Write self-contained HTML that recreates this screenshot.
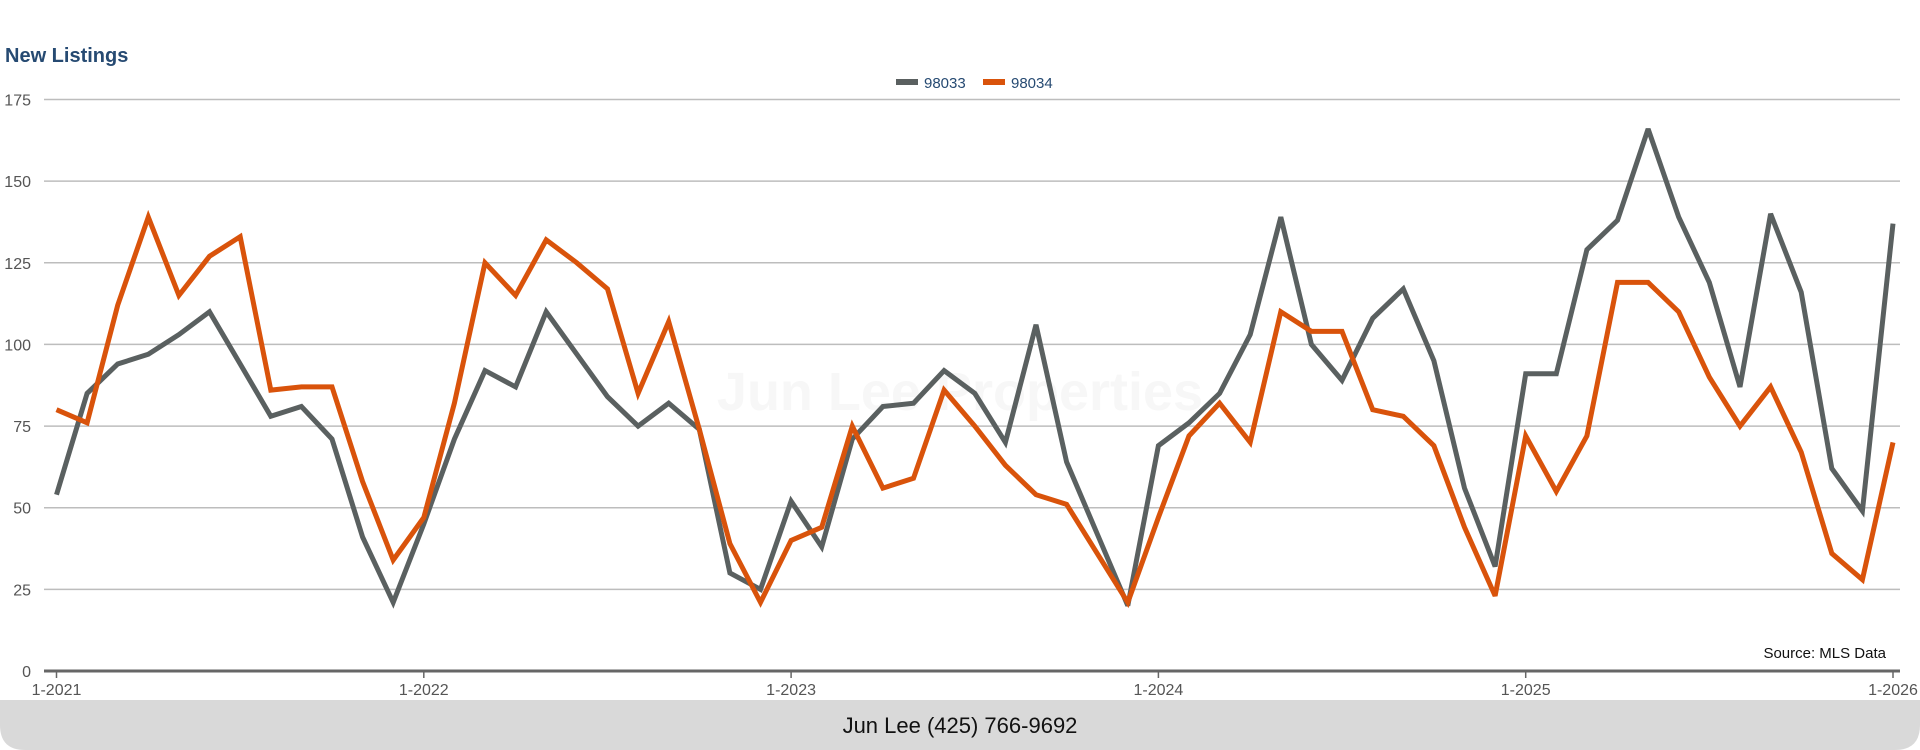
<!DOCTYPE html>
<html><head><meta charset="utf-8"><style>
html,body{margin:0;padding:0;background:#fff;}
svg{display:block;font-family:"Liberation Sans",sans-serif;}
</style></head><body>
<svg id="chart" width="1920" height="750" viewBox="0 0 1920 750">
<path d="M0 700 H1920 V725 Q1920 750 1895 750 H25 Q0 750 0 725 Z" fill="#d9d9d9"/>
<text x="5" y="62" font-size="20" font-weight="bold" fill="#264a72">New Listings</text>
<g>
<g><rect x="896" y="79" width="22" height="6" fill="#5a6060"/><text x="924" y="88" font-size="15" fill="#264a72">98033</text></g>
<g><rect x="983" y="79" width="22" height="6" fill="#d9530b"/><text x="1011" y="88" font-size="15" fill="#264a72">98034</text></g>
</g>
<text x="960" y="410" font-size="54" font-weight="bold" fill="#f7f7f7" text-anchor="middle">Jun Lee Properties</text>
<g id="grid"></g><g id="axes"></g><g id="lines"></g>
<text x="1886" y="658" font-size="15" fill="#111" text-anchor="end">Source: MLS Data</text>
<text x="960" y="733" font-size="22" fill="#111" text-anchor="middle" font-family="Liberation Sans Narrow, Liberation Sans, sans-serif">Jun Lee (425) 766-9692</text>
</svg>
<script>
const yTicks = [0,25,50,75,100,125,150,175];
const xTickLabels = ["1-2021","1-2022","1-2023","1-2024","1-2025","1-2026"];
const series98033 = [54,85,94,97,103,110,94,78,81,71,41,21,45,71,92,87,110,97,84,75,82,74,30,25,52,38,71,81,82,92,85,70,106,64,42,20,69,76,85,103,139,100,89,108,117,95,56,32,91,91,129,138,166,139,119,87,140,116,62,49,137];
const series98034 = [80,76,112,139,115,127,133,86,87,87,58,34,47,82,125,115,132,125,117,85,107,74,39,21,40,44,75,56,59,86,75,63,54,51,36,21,47,72,82,70,110,104,104,80,78,69,44,23,72,55,72,119,119,110,90,75,87,67,36,28,70];
const NS="http://www.w3.org/2000/svg";
const x0=56.5,x1=1893,y0=671,y1=99.5,ymax=175,nMonths=60;
function xs(i){return x0+(x1-x0)*i/nMonths;}
function ys(v){return y0-(y0-y1)*v/ymax;}
function mk(tag,attrs,parent){const e=document.createElementNS(NS,tag);for(const k in attrs)e.setAttribute(k,attrs[k]);parent.appendChild(e);return e;}
const grid=document.getElementById('grid'),axes=document.getElementById('axes'),lines=document.getElementById('lines');
yTicks.forEach(v=>{
  if(v>0){const l=mk('line',{x1:44,x2:1900,y1:ys(v),y2:ys(v),stroke:'#bdbdbd','stroke-width':1.5},grid);
  
  }
  const t=mk('text',{x:31,y:ys(v)+6,'font-size':16,fill:'#555','text-anchor':'end'},axes);
  t.textContent=v;
  
  
});
const ax=mk('line',{x1:44,x2:1900,y1:y0,y2:y0,stroke:'#666','stroke-width':3},axes);


xTickLabels.forEach((lab,k)=>{
  const x=xs(k*12);
  const tk=mk('line',{x1:x,x2:x,y1:y0,y2:y0+7,stroke:'#666','stroke-width':1.5},axes);
  
  
  const t=mk('text',{x:x,y:y0+24,'font-size':16,fill:'#555','text-anchor':'middle'},axes);
  t.textContent=lab;
  
  
});
function draw(data,color,name){
  const d=data.map((v,i)=>(i?'L':'M')+xs(i).toFixed(1)+' '+ys(v).toFixed(1)).join(' ');
  const p=mk('path',{d:d,fill:'none',stroke:color,'stroke-width':5,'stroke-linejoin':'miter','stroke-miterlimit':3},lines);
  
  
}
draw(series98033,'#5a6060','line-98033');
draw(series98034,'#d9530b','line-98034');
</script>
</body></html>
